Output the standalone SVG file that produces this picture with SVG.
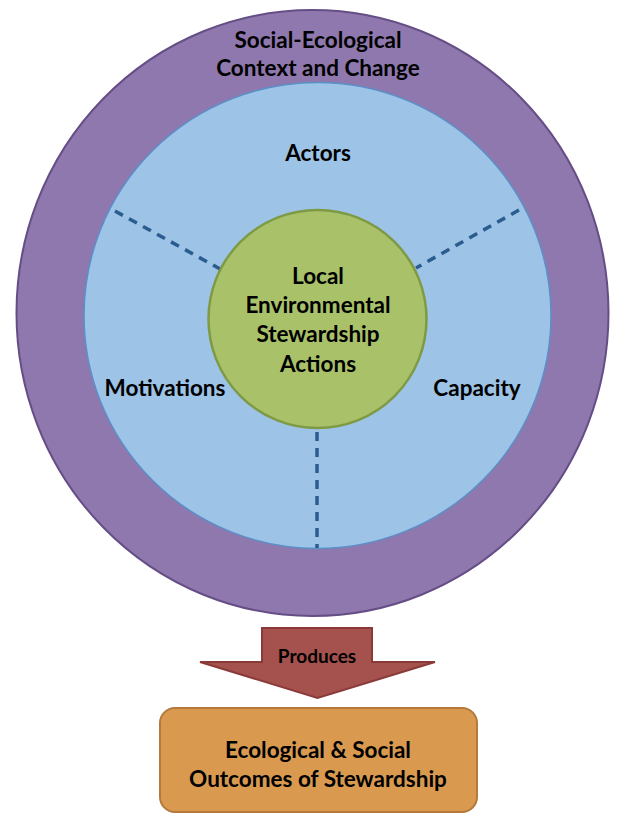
<svg xmlns="http://www.w3.org/2000/svg" width="625" height="818" viewBox="0 0 625 818">
<style>
text{font-family:Lato,"Open Sans","Liberation Sans",sans-serif;font-weight:700;fill:#000;text-anchor:middle}
.t{font-size:22.5px}
.s{font-size:19px}
.dash{fill:none;stroke:#2B5C8F;stroke-width:3.5;stroke-dasharray:9 7}
</style>
<g id="context">
<ellipse cx="312.5" cy="313" rx="296" ry="303" fill="#8F78AE" stroke="#654E85" stroke-width="2"/>
<text class="t" x="318" y="48">Social-Ecological</text>
<text class="t" x="318" y="76">Context and Change</text>
</g>
<g id="actors">
<ellipse cx="317.5" cy="315.5" rx="233.5" ry="233" fill="#9DC3E6" stroke="#5B8FC7" stroke-width="1.5"/>
<text class="t" x="318" y="161">Actors</text>
<text class="t" x="165" y="396">Motivations</text>
<text class="t" x="477" y="396">Capacity</text>
</g>
<g id="connectors">
<line class="dash" x1="115" y1="211" x2="222" y2="270"/>
<line class="dash" x1="519" y1="210" x2="416" y2="268"/>
<line class="dash" x1="317" y1="432" x2="317" y2="548"/>
</g>
<g id="actions">
<circle cx="317.5" cy="319" r="109" fill="#A9C26A" stroke="#7E9A45" stroke-width="2.5"/>
<text class="t" x="318" y="284">Local</text>
<text class="t" x="318" y="313">Environmental</text>
<text class="t" x="318" y="342">Stewardship</text>
<text class="t" x="318" y="372">Actions</text>
</g>
<g id="produces">
<polygon points="262,628 372,628 372,662 435,662 317.5,698 200,662 262,662" fill="#A5514E" stroke="#8A3B39" stroke-width="2" stroke-linejoin="miter"/>
<text class="s" x="317" y="663">Produces</text>
</g>
<g id="outcomes">
<rect x="160" y="708" width="317" height="104" rx="15" fill="#D99A50" stroke="#B37A3B" stroke-width="2"/>
<text class="t" x="318" y="758">Ecological &amp; Social</text>
<text class="t" x="318" y="787">Outcomes of Stewardship</text>
</g>
</svg>
